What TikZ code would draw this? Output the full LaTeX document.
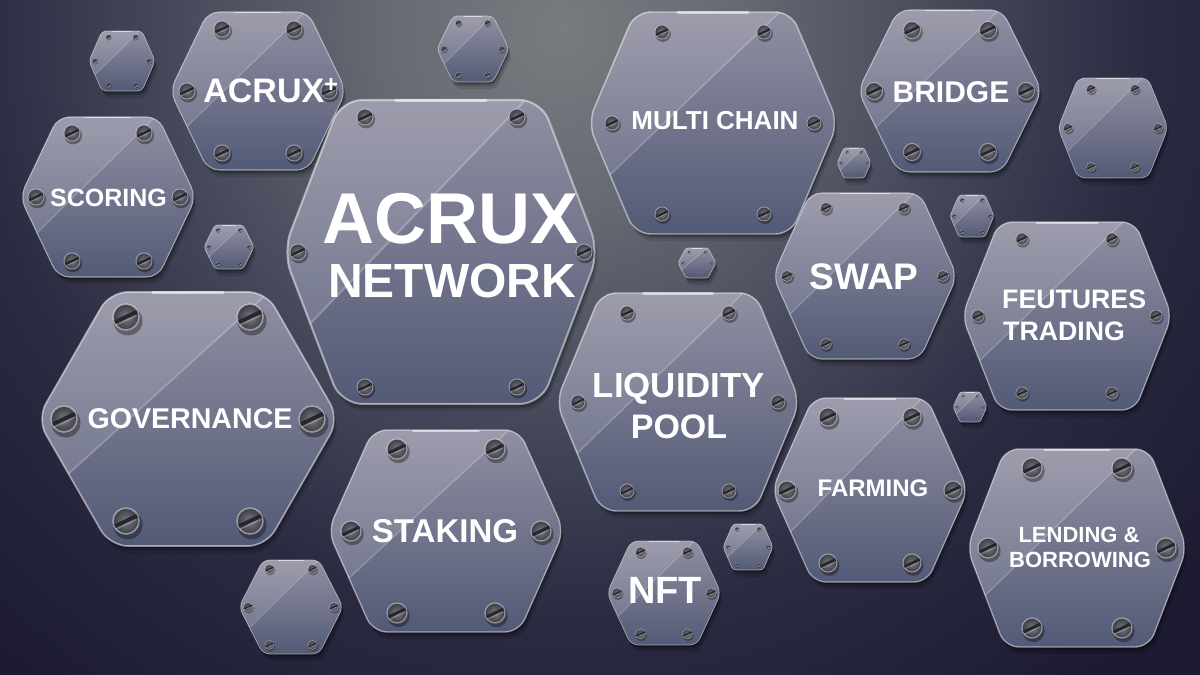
\documentclass[tikz,border=0pt]{standalone}
\usepackage{fontspec}
\setmainfont{Liberation Sans}
\definecolor{bgA}{HTML}{777C80}
\definecolor{bgB}{HTML}{666A72}
\definecolor{bgC}{HTML}{484B5C}
\definecolor{bgD}{HTML}{2A2A41}
\definecolor{bgE}{HTML}{1C1B31}
\definecolor{glassTop}{HTML}{908FA2}
\definecolor{glassBot}{HTML}{535A76}
\definecolor{scrLight}{HTML}{7A7B83}
\definecolor{scrDark}{HTML}{3C3D44}
\definecolor{scrSlot}{HTML}{26262C}
\pgfdeclareradialshading{bgshade}{\pgfpoint{0bp}{0bp}}{color(0bp)=(bgA); color(4bp)=(bgB); color(8.5bp)=(bgC); color(13.5bp)=(bgD); color(19bp)=(bgE); color(50bp)=(bgE)}
\tikzset{lbl/.style={text=white, inner sep=0pt, anchor=base}}
\newcommand\fs[1]{\fontsize{#1}{#1}\selectfont\bfseries}
% hexagon path: options, cx, cy, w, t, h
\newcommand\hexshape[6]{\path[rounded corners=\rc pt,#1] (#2,{#3-#6}) -- ({#2+#5},{#3-#6}) -- ({#2+#4},#3) -- ({#2+#5},{#3+#6}) -- ({#2-#5},{#3+#6}) -- ({#2-#4},#3) -- ({#2-#5},{#3-#6}) -- cycle;}
% screw: x, y, r
\newcommand\screw[3]{%
  \fill[black,opacity=.35] ({#1+0.15*#3},{#2+0.3*#3}) circle ({1.12*#3});
  \shade[inner color=scrLight, outer color=scrDark] (#1,#2) circle (#3);
  \draw[white,opacity=.45,line width={max(0.3,0.12*#3)}] (#1,#2) circle (#3);
  \draw[white,opacity=.25,line width={0.14*#3}] ({#1-0.8*#3},{#2+0.62*#3}) -- ({#1+0.8*#3},{#2-0.12*#3});
  \draw[scrSlot,line width={0.3*#3}] ({#1-0.85*#3},{#2+0.4*#3}) -- ({#1+0.85*#3},{#2-0.4*#3});
}
% glass hexagon: cx, cy, w, t, h, screw r, sx, sy, se
\newcommand\glasshex[9]{%
  \pgfmathsetmacro\rc{0.14*#5}%
  \pgfmathsetmacro\lw{max(0.7,#5/75)}%
  \foreach \dx/\dy/\op in {1/2/0.25, 2/4/0.17, 3/7/0.12}{%
    \hexshape{fill=black,opacity=\op,xshift=\dx pt,yshift=-\dy pt}{#1}{#2}{#3}{#4}{#5}}%
  \hexshape{top color=glassTop, bottom color=glassBot}{#1}{#2}{#3}{#4}{#5}%
  \begin{scope}
    \hexshape{clip}{#1}{#2}{#3}{#4}{#5}%
    \fill[white,opacity=.12] ({#1+0.72*#3},{#2-1.2*#5}) -- ({#1-0.9*#3},{#2+0.55*#5}) -- ({#1-1.3*#3},{#2+0.55*#5}) -- ({#1-1.3*#3},{#2-1.3*#5}) -- cycle;
    \draw[white,opacity=.22,line width=\lw pt] ({#1+0.72*#3},{#2-1.2*#5}) -- ({#1-0.9*#3},{#2+0.55*#5});
  \end{scope}
  \hexshape{draw=white,draw opacity=.5,line width=\lw pt}{#1}{#2}{#3}{#4}{#5}%
  \draw[white,opacity=.55,line width={1.6*\lw}, line cap=round] ({#1-0.45*#4},{#2-#5+0.6}) -- ({#1+0.45*#4},{#2-#5+0.6});
  \screw{#1-#7}{#2-#8}{#6}\screw{#1+#7}{#2-#8}{#6}%
  \screw{#1-#9}{#2}{#6}\screw{#1+#9}{#2}{#6}%
  \screw{#1-#7}{#2+#8}{#6}\screw{#1+#7}{#2+#8}{#6}%
}
\begin{document}
\begin{tikzpicture}[x=1pt,y=-1pt]
\useasboundingbox (0,0) rectangle (1200,675);
\begin{scope}
  \clip (0,0) rectangle (1200,675);
  \fill[bgE] (0,0) rectangle (1200,675);
  \shade[shading=bgshade] (560,30) circle (1100);
\end{scope}
% small decorative hexagons
\glasshex{122}{61}{33}{20}{30}{2.5}{13.5}{24}{27}
\glasshex{473}{49}{36}{20}{33}{3}{14.5}{26}{29}
\glasshex{1113}{128}{55}{35}{50}{4.5}{22}{39}{45}
\glasshex{854}{163}{17}{10}{15}{1.5}{7}{11}{13}
\glasshex{229}{247}{25}{14}{22}{2}{11}{17}{20}
\glasshex{697}{263}{19}{11}{15}{1.5}{8}{11}{14}
\glasshex{972}{216}{22}{13}{21}{2}{10}{16}{18}
\glasshex{970}{407}{17}{10}{15}{1.5}{7}{11}{13}
\glasshex{748}{547}{25}{15}{23}{2}{11}{18}{20}
\glasshex{291}{607}{52}{28}{47}{4.5}{21.5}{38}{43}
% labelled hexagons
\glasshex{258}{91}{88}{50}{79}{8}{36}{62}{71}
\glasshex{713}{123}{125}{78}{111}{7}{51}{91}{101}
\glasshex{950}{91}{92}{52}{81}{8.5}{38}{61}{76}
\glasshex{108}{197}{88}{50}{80}{8}{36}{64}{72}
\glasshex{441}{252}{158}{100}{152}{8}{76}{135}{143}
\glasshex{865}{276}{92}{55}{83}{5.5}{39}{68}{78}
\glasshex{1067}{316}{105}{68}{94}{6}{45}{77}{89}
\glasshex{188}{419}{151}{78}{127}{13}{62}{102}{124}
\glasshex{678}{402}{122}{77}{109}{7}{51}{89}{100}
\glasshex{870}{490}{98}{57}{92}{9}{42}{73}{83}
\glasshex{1077}{548}{110}{72}{99}{10}{45}{80}{89}
\glasshex{446}{531}{118}{73}{101}{10}{49}{82}{95}
\glasshex{664}{593}{57}{33}{52}{5}{23.5}{41}{47}
% labels
\node[lbl,font=\fs{72}] (acrux) at (451,243) {ACRUX};
\node[lbl,font=\fs{48}] (network) at (452,297) {NETWORK};
\node[lbl,font=\fs{34}] (acruxplus) at (271,102) {ACRUX\textsuperscript{+}};
\node[lbl,font=\fs{25}] (scoring) at (108.5,206) {SCORING};
\node[lbl,font=\fs{26}] (multichain) at (715,129) {MULTI CHAIN};
\node[lbl,font=\fs{30}] (bridge) at (951,102) {BRIDGE};
\node[lbl,font=\fs{37}] (swap) at (864,289) {SWAP};
\node[lbl,font=\fs{26.7},anchor=base west] (feutures) at (1002,308.5) {FEUTURES};
\node[lbl,font=\fs{26.7},anchor=base west] (trading) at (1003,340.5) {TRADING};
\node[lbl,font=\fs{28.6}] (governance) at (190,428) {GOVERNANCE};
\node[lbl,font=\fs{34.8}] (liquidity) at (679,397.5) {LIQUIDITY};
\node[lbl,font=\fs{34}] (pool) at (679,438) {POOL};
\node[lbl,font=\fs{24}] (farming) at (873,496.6) {FARMING};
\node[lbl,font=\fs{22}] (lending) at (1079,542) {LENDING \&};
\node[lbl,font=\fs{22}] (borrowing) at (1080,567) {BORROWING};
\node[lbl,font=\fs{33}] (staking) at (445,542) {STAKING};
\node[lbl,font=\fs{38}] (nft) at (665,603.6) {NFT};
\end{tikzpicture}
\end{document}
